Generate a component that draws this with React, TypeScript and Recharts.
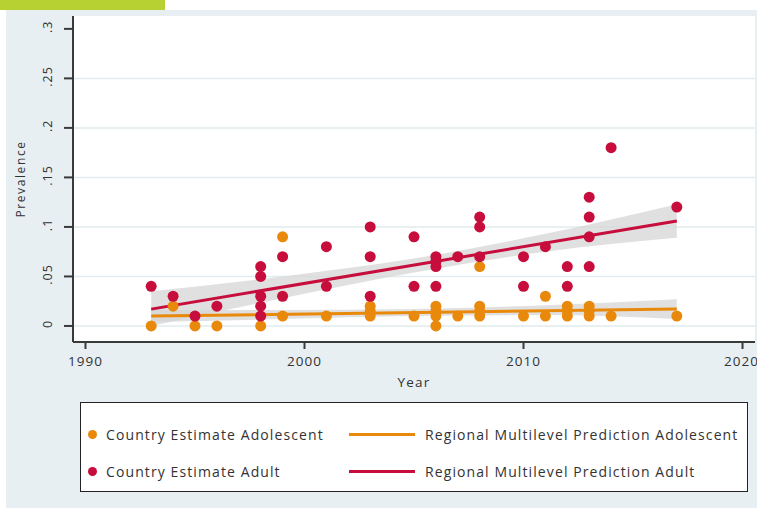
import React from 'react'
import { ComposedChart, Scatter, Line, Area, XAxis, YAxis, CartesianGrid } from 'recharts'

// country estimates, [year, prevalence]
const adolescentPoints: [number, number][] = [
  [1993, 0], [1994, 0.02], [1995, 0], [1996, 0], [1998, 0],
  [1999, 0.09], [1999, 0.01], [2001, 0.01],
  [2003, 0.02], [2003, 0.015], [2003, 0.01], [2005, 0.01],
  [2006, 0.02], [2006, 0.015], [2006, 0.01], [2006, 0], [2007, 0.01],
  [2008, 0.06], [2008, 0.02], [2008, 0.015], [2008, 0.01],
  [2010, 0.01], [2011, 0.03], [2011, 0.01],
  [2012, 0.02], [2012, 0.015], [2012, 0.01],
  [2013, 0.02], [2013, 0.015], [2013, 0.01],
  [2014, 0.01], [2017, 0.01],
]

const adultPoints: [number, number][] = [
  [1993, 0.04], [1994, 0.03], [1995, 0.01], [1996, 0.02],
  [1998, 0.06], [1998, 0.05], [1998, 0.03], [1998, 0.02], [1998, 0.01],
  [1999, 0.07], [1999, 0.03], [2001, 0.08], [2001, 0.04],
  [2003, 0.1], [2003, 0.07], [2003, 0.03], [2005, 0.09], [2005, 0.04],
  [2006, 0.07], [2006, 0.065], [2006, 0.06], [2006, 0.04], [2007, 0.07],
  [2008, 0.11], [2008, 0.1], [2008, 0.07], [2010, 0.07], [2010, 0.04],
  [2011, 0.08], [2012, 0.06], [2012, 0.04],
  [2013, 0.13], [2013, 0.11], [2013, 0.09], [2013, 0.06],
  [2014, 0.18], [2017, 0.12],
]

// regional multilevel prediction (straight fits)
const predYears = [1993, 2017]
const adolescentPred = [0.01, 0.017]
const adultPred = [0.017, 0.106]

// confidence bands
const bandYears = [1993, 1999, 2005, 2011, 2017]
const adolescentLow = [0.004, 0.007, 0.01, 0.011, 0.007]
const adolescentHigh = [0.016, 0.016, 0.017, 0.021, 0.027]
const adultLow = [0.0, 0.028, 0.054, 0.075, 0.089]
const adultHigh = [0.035, 0.05, 0.068, 0.093, 0.123]

const xTicks = [1990, 2000, 2010, 2020]
const yTicks = [0, 0.05, 0.1, 0.15, 0.2, 0.25, 0.3]

const ORANGE = '#e9890c'
const RED = '#c70d3c'
const BAND = '#d6d6d6'
const PANEL = '#e8eff2'
const GRID = '#e2ebee'
const AXIS = '#3a3a3a'
const TEXT = '#333'
const FONT = '"Open Sans", sans-serif'

const fmtY = (v: number) => (v === 0 ? '0' : String(v).replace(/^0/, ''))

function YTick({ x, y, payload }: any) {
  const bx = x - 10
  const cy = y - 2
  return (
    <text x={bx} y={cy} transform={`rotate(-90, ${bx}, ${cy})`} textAnchor="middle" fontSize={12.5} letterSpacing={1} fill={TEXT} fontFamily={FONT}>
      {fmtY(payload.value)}
    </text>
  )
}

const legendItems = [
  { label: 'Country Estimate Adolescent', color: ORANGE, kind: 'dot' },
  { label: 'Regional Multilevel Prediction Adolescent', color: ORANGE, kind: 'line' },
  { label: 'Country Estimate Adult', color: RED, kind: 'dot' },
  { label: 'Regional Multilevel Prediction Adult', color: RED, kind: 'line' },
]

function LegendBox() {
  return (
    <div style={{
      position: 'absolute', left: 80, top: 402, width: 666, height: 88,
      background: '#fff', border: '1.5px solid #222', fontFamily: FONT,
      fontSize: 14, color: TEXT, letterSpacing: 1.1,
    }}>
      {legendItems.map((it, i) => {
        const row = Math.floor(i / 2)
        const col = i % 2
        const top = row === 0 ? 31 : 68
        const left = col === 0 ? 0 : 268
        return (
          <div key={it.label} style={{ position: 'absolute', left, top: top - 10, height: 20, display: 'flex', alignItems: 'center', whiteSpace: 'nowrap' }}>
            {it.kind === 'dot' ? (
              <span style={{ display: 'inline-block', width: 9, height: 9, borderRadius: 5, background: it.color, marginLeft: 7, marginRight: 9 }} />
            ) : (
              <span style={{ display: 'inline-block', width: 66, height: 3, background: it.color, marginRight: 10 }} />
            )}
            <span>{it.label}</span>
          </div>
        )
      })}
    </div>
  )
}

export default function App() {
  const adolescentData = adolescentPoints.map(([year, value]) => ({ year, value }))
  const adultData = adultPoints.map(([year, value]) => ({ year, value }))
  const predData = predYears.map((year, i) => ({ year, adolescent: adolescentPred[i], adult: adultPred[i] }))
  const bandData = bandYears.map((year, i) => ({
    year,
    adolescent: [adolescentLow[i], adolescentHigh[i]],
    adult: [adultLow[i], adultHigh[i]],
  }))

  return (
    <div style={{ position: 'absolute', left: 0, top: 0, width: 757, height: 510, background: '#fff', overflow: 'hidden' }}>
      <div style={{ position: 'absolute', left: 0, top: 0, width: 165, height: 10, background: '#b6d131' }} />
      <div style={{ position: 'absolute', left: 6, top: 10, width: 751, height: 498, background: PANEL }} />
      <div style={{ position: 'absolute', left: 0, top: 0 }}>
        <ComposedChart width={757} height={390} margin={{ top: 16, right: 2, left: 0, bottom: 0 }}>
          <CartesianGrid
            vertical={false}
            horizontalValues={yTicks.slice(0, -1)}
            stroke={GRID}
            strokeWidth={1.5}
            fill="#fff"
            fillOpacity={1}
          />
          <XAxis
            type="number"
            dataKey="year"
            domain={[1989.43, 2020.57]}
            ticks={xTicks}
            allowDataOverflow
            height={48}
            tickSize={7}
            tickMargin={7}
            axisLine={{ stroke: AXIS, strokeWidth: 2 }}
            tickLine={{ stroke: AXIS, strokeWidth: 2 }}
            tick={{ fill: TEXT, fontSize: 13.5, fontFamily: FONT, letterSpacing: 1 }}
            label={{ value: 'Year', position: 'insideBottom', offset: 3, fill: TEXT, fontSize: 13.5, fontFamily: FONT, letterSpacing: 1.2 }}
          />
          <YAxis
            type="number"
            domain={[-0.0162, 0.313]}
            ticks={yTicks}
            allowDataOverflow
            width={73}
            tickSize={9}
            axisLine={{ stroke: AXIS, strokeWidth: 2 }}
            tickLine={{ stroke: AXIS, strokeWidth: 2 }}
            tick={<YTick />}
            label={{ value: 'Prevalence', angle: -90, position: 'insideLeft', offset: 21, fill: TEXT, fontSize: 12, fontFamily: FONT, letterSpacing: 1.6, style: { textAnchor: 'middle' } }}
          />
          <Area data={bandData} dataKey="adolescent" type="monotone" stroke="none" fill={BAND} fillOpacity={0.75} isAnimationActive={false} />
          <Area data={bandData} dataKey="adult" type="monotone" stroke="none" fill={BAND} fillOpacity={0.75} isAnimationActive={false} />
          <Line data={predData} dataKey="adolescent" type="linear" stroke={ORANGE} strokeWidth={3} dot={false} isAnimationActive={false} />
          <Line data={predData} dataKey="adult" type="linear" stroke={RED} strokeWidth={3} dot={false} isAnimationActive={false} />
          <Scatter
            data={adolescentData}
            dataKey="value"
            isAnimationActive={false}
            shape={(p: any) => <circle cx={p.cx} cy={p.cy} r={5.5} fill={ORANGE} />}
          />
          <Scatter
            data={adultData}
            dataKey="value"
            isAnimationActive={false}
            shape={(p: any) => <circle cx={p.cx} cy={p.cy} r={5.5} fill={RED} />}
          />
        </ComposedChart>
      </div>
      <LegendBox />
    </div>
  )
}
